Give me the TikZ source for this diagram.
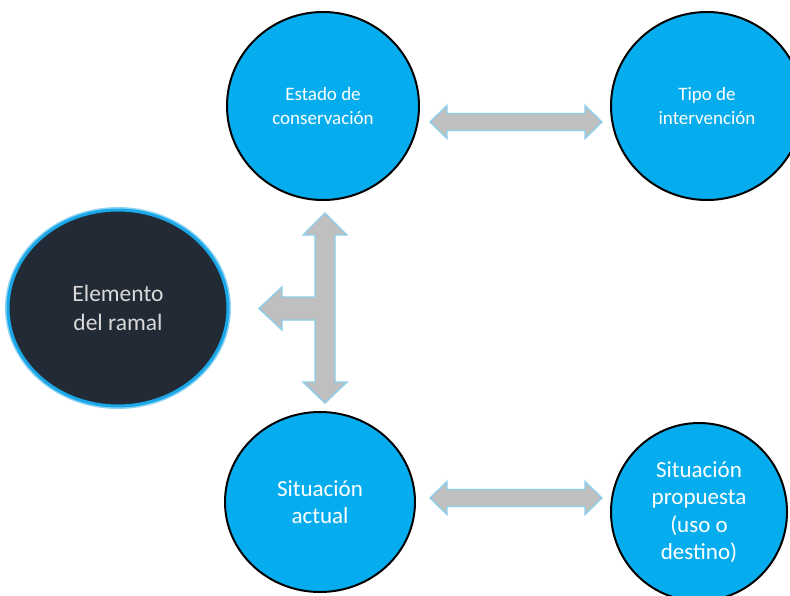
\documentclass[tikz,border=0pt]{standalone}
\usepackage{fontspec}
\setmainfont{Carlito}
\usetikzlibrary{shapes.geometric}
\definecolor{cblue}{HTML}{06ADEE}
\definecolor{cdark}{HTML}{222A35}
\definecolor{cglow}{HTML}{1AA8E8}
\definecolor{agrey}{HTML}{BFBFBF}
\definecolor{aedge}{HTML}{8CCFEA}
\tikzset{
  bluecirc/.style={ellipse, fill=cblue, draw=black, line width=2pt, inner sep=0pt,
    text=white, align=center},
  topfont/.style={font=\fontsize{19}{23.5}\selectfont},
  lowfont/.style={font=\fontsize{23}{27.5}\selectfont},
  darkcirc/.style={ellipse, fill=cdark, draw=cglow, line width=3pt, inner sep=0pt,
    text=white!85!black, align=center, font=\fontsize{23.5}{29}\selectfont},
  blockarrow/.style={fill=agrey, draw=aedge, line width=1.4pt, line join=miter},
}
\begin{document}
\begin{tikzpicture}[x=1pt,y=-1pt]
\useasboundingbox (0,0) rectangle (790,595);
\fill[white] (0,0) rectangle (790,595);
% circles
\node[bluecirc, topfont, minimum width=192pt, minimum height=188pt] (estado) at (323,106) {Estado de\\conservación};
\node[bluecirc, topfont, minimum width=192pt, minimum height=188pt] (tipo) at (707,106) {Tipo de\\intervención};
\draw[cglow!50, line width=6pt] (118,308) ellipse [x radius=110, y radius=98];
\node[darkcirc, minimum width=220pt, minimum height=196pt] (elem) at (118,308) {Elemento\\del ramal};
\node[bluecirc, lowfont, minimum width=190pt, minimum height=180pt] (actual) at (320,502) {Situación\\actual};
\node[bluecirc, lowfont, minimum width=176pt, minimum height=178pt] (prop) at (699,512) {Situación\\propuesta\\(uso o\\destino)};
% top double arrow
\draw[blockarrow] (430,122) -- (447,105.5) -- (447,113.5) -- (585,113.5) -- (585,105.5) -- (602,122)
  -- (585,138.5) -- (585,130.5) -- (447,130.5) -- (447,138.5) -- cycle;
% bottom double arrow
\draw[blockarrow] (430,498) -- (447,481.5) -- (447,489.5) -- (585,489.5) -- (585,481.5) -- (602,498)
  -- (585,514.5) -- (585,506.5) -- (447,506.5) -- (447,514.5) -- cycle;
% T arrow
\draw[blockarrow] (325,213) -- (347,235) -- (335,235) -- (335,382) -- (347,382) -- (325,403)
  -- (303,382) -- (315,382) -- (315,320) -- (282,320) -- (282,330) -- (259,308.5)
  -- (282,287) -- (282,297) -- (315,297) -- (315,235) -- (303,235) -- cycle;
\end{tikzpicture}
\end{document}
